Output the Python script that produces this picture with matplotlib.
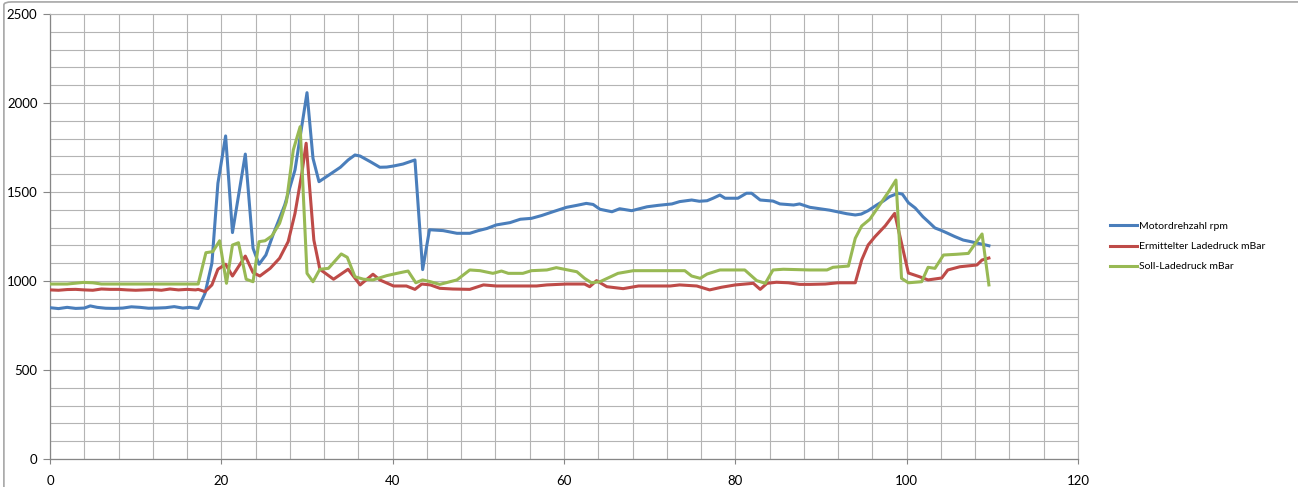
import matplotlib
matplotlib.use("Agg")
import matplotlib.pyplot as plt
from matplotlib.patches import FancyBboxPatch

# Motordrehzahl rpm
rpm_t = [0, 1, 2, 3, 4, 4.7, 5.5, 6.5, 7.5, 8.5, 9.5, 10.5, 11.5, 12.5, 13.5, 14.5, 15.5, 16.3, 17.3,
         18.1, 18.9, 19.6, 20.5, 21.3, 22.8, 23.7, 24.4, 25.2, 26.1, 27.4, 28.6, 30.0, 30.7, 31.4,
         32.7, 33.9, 34.8, 35.6, 36.2, 37.4, 38.5, 39.3, 40.1, 41.2, 42.6, 43.5, 44.3, 45.9, 47.5,
         49.0, 50.0, 51.0, 52.1, 53.7, 54.9, 56.2, 57.4, 58.7, 60.3, 61.5, 62.6, 63.4, 64.2, 65.6,
         66.5, 67.9, 69.7, 71.0, 72.6, 73.5, 74.9, 75.8, 76.7, 77.4, 78.2, 78.8, 80.3, 81.3, 81.9,
         82.9, 84.4, 85.2, 86.8, 87.5, 88.7, 90.0, 91.0, 92.0, 93.0, 94.0, 94.7, 95.5, 96.5, 97.3,
         98.0, 99.0, 99.5, 100.2, 101.0, 101.9, 102.6, 103.3, 104.0, 104.7, 105.6, 106.6, 107.4,
         108.2, 109.0, 109.6]
rpm = [850, 845, 852, 846, 848, 860, 852, 847, 846, 848, 855, 852, 847, 848, 850, 856, 848, 852, 846,
       931, 1100, 1549, 1815, 1272, 1713, 1184, 1094, 1146, 1268, 1427, 1624, 2058, 1689, 1558,
       1600, 1639, 1680, 1708, 1702, 1670, 1639, 1640, 1646, 1657, 1680, 1064, 1288, 1283, 1268,
       1268, 1283, 1295, 1315, 1328, 1347, 1352, 1368, 1389, 1414, 1425, 1436, 1430, 1403, 1389,
       1406, 1395, 1417, 1425, 1433, 1446, 1455, 1448, 1451, 1465, 1483, 1465, 1465, 1493, 1493,
       1455, 1449, 1433, 1427, 1433, 1414, 1405, 1398, 1388, 1378, 1371, 1376, 1395, 1427, 1450,
       1474, 1493, 1488, 1440, 1410, 1361, 1330, 1298, 1285, 1270, 1250, 1230, 1222,
       1213, 1205, 1198]

# Ermittelter Ladedruck mBar
ist_t = [0, 1, 2, 3, 4, 5, 6, 7, 8, 9, 10, 11, 12, 13, 14, 15, 16, 17, 17.3, 18.1, 18.9, 19.6, 20.5,
         21.3, 22.8, 23.7, 24.5, 25.7, 26.8, 27.8, 28.6, 29.4, 29.9, 30.3, 30.8, 31.5, 33.1, 34.8,
         36.2, 37.7, 38.5, 40.1, 41.6, 42.6, 43.4, 44.4, 45.5, 47.0, 49.0, 50.6, 52.1, 54.0, 56.8,
         58.0, 60.3, 62.4, 63.0, 63.8, 65.0, 66.9, 68.7, 70.5, 72.4, 73.5, 75.5, 77.0, 78.4, 80.0,
         82.1, 82.9, 83.7, 84.8, 86.2, 87.5, 88.7, 90.5, 92.0, 94.0, 94.75, 95.5, 96.3, 97.5, 98.6,
         100.2, 101.5, 102.5, 104.1, 104.8, 106.2, 108.2, 108.8, 109.6]
ist = [950, 948, 952, 953, 950, 948, 955, 953, 953, 950, 948, 950, 952, 948, 955, 950, 953, 950, 953,
       940, 978, 1066, 1094, 1028, 1140, 1047, 1028, 1071, 1128, 1221, 1380, 1605, 1774, 1530,
       1230, 1066, 1010, 1066, 978, 1038, 1006, 972, 972, 953, 983, 978, 959, 955, 953, 978,
       972, 972, 972, 978, 983, 983, 968, 1002, 968, 957, 972, 972, 972, 978, 972, 950, 965, 978,
       987, 953, 987, 993, 990, 981, 981, 983, 990, 990, 1118, 1202, 1249, 1310, 1380,
       1045, 1024, 1006, 1017, 1062, 1080, 1090, 1118, 1129]

# Soll-Ladedruck mBar
soll_t = [0, 2, 3.9, 5, 6, 8, 10, 12, 14, 16, 17.3, 18.2, 19.0, 19.8, 20.6, 21.3, 22.0, 22.9, 23.7,
          24.4, 25.1, 25.9, 26.8, 27.6, 28.4, 29.2, 30.0, 30.7, 31.5, 32.5, 34.0, 34.7, 35.6, 36.6,
          37.7, 39.3, 40.5, 41.8, 42.7, 43.5, 44.4, 45.5, 47.5, 49.0, 50.2, 51.7, 52.7, 53.5, 55.2,
          56.2, 58.0, 59.1, 61.5, 62.4, 63.2, 64.2, 66.3, 68.1, 70.0, 72.0, 74.1, 74.9, 75.9, 76.7,
          78.2, 81.1, 82.5, 83.5, 84.4, 85.6, 88.7, 90.7, 91.4, 93.2, 94.0, 94.75, 95.7, 96.7, 97.9,
          98.75, 99.4, 100.2, 101.75, 102.5, 103.3, 104.3, 105.8, 107.2, 108.8, 109.6]
soll = [983, 983, 992, 990, 983, 983, 983, 983, 983, 983, 983, 1159, 1165, 1226, 987, 1202, 1215, 1010,
        996, 1221, 1226, 1253, 1324, 1445, 1736, 1867, 1043, 996, 1066, 1071, 1152, 1133, 1024,
        1010, 1006, 1030, 1043, 1056, 990, 1006, 996, 981, 1006, 1062, 1058, 1043, 1056, 1043, 1043,
        1058, 1062, 1075, 1052, 1015, 990, 996, 1043, 1058, 1058, 1058, 1058, 1028, 1015, 1039,
        1062, 1062, 1002, 987, 1062, 1066, 1062, 1062, 1077, 1084, 1240, 1309, 1347, 1417, 1502,
        1567, 1015, 990, 996, 1077, 1071, 1146, 1150, 1155, 1264, 978]

labels = ["Motordrehzahl rpm", "Ermittelter Ladedruck mBar", "Soll-Ladedruck mBar"]
colors = ["#4A7EBB", "#BE4B48", "#98B954"]

plt.rcParams["font.family"] = ["Lato", "DejaVu Sans"]

fig = plt.figure(figsize=(12.98, 4.87), dpi=100)
ax = fig.add_axes([50 / 1298, 28 / 487, 1028 / 1298, 445 / 487])

ax.plot(rpm_t, rpm, color=colors[0], lw=2.2, label=labels[0], zorder=3)
ax.plot(ist_t, ist, color=colors[1], lw=2.2, label=labels[1], zorder=3)
ax.plot(soll_t, soll, color=colors[2], lw=2.2, label=labels[2], zorder=3)

ax.set_xlim(0, 120)
ax.set_ylim(0, 2500)
ax.set_xticks(range(0, 121, 20))
ax.set_xticks(range(0, 121, 4), minor=True)
ax.set_yticks(range(0, 2501, 500))
ax.set_yticks(range(0, 2501, 100), minor=True)
ax.grid(True, which="both", color="#b4b4b4", lw=0.8, zorder=0)
ax.set_axisbelow(True)

for s in ["top", "right"]:
    ax.spines[s].set_color("#b4b4b4")
    ax.spines[s].set_linewidth(0.8)
for s in ["left", "bottom"]:
    ax.spines[s].set_color("#868686")
    ax.spines[s].set_linewidth(0.9)

ax.tick_params(axis="y", which="major", length=5, width=0.8, color="#868686", labelsize=9.5, pad=4)
ax.tick_params(axis="x", which="major", length=3.5, width=0.8, color="#868686", labelsize=9.5, pad=8)
ax.tick_params(which="minor", length=0)

fig.legend(loc="center left", bbox_to_anchor=(1110 / 1298, 1 - 246.5 / 487), frameon=False,
           fontsize=7.5, handlelength=2.6, handletextpad=0.15, labelspacing=1.05,
           borderpad=0, borderaxespad=0)

# chart-area frame: only the left and top edges are visible in the picture
border = FancyBboxPatch((0.003, -0.1), 1.2, 1.096, boxstyle="round,pad=0,rounding_size=0.006",
                        transform=fig.transFigure, fill=False, edgecolor="#a6a6a6", lw=1.2)
fig.patches.append(border)

fig.savefig("out.png", dpi=100)
